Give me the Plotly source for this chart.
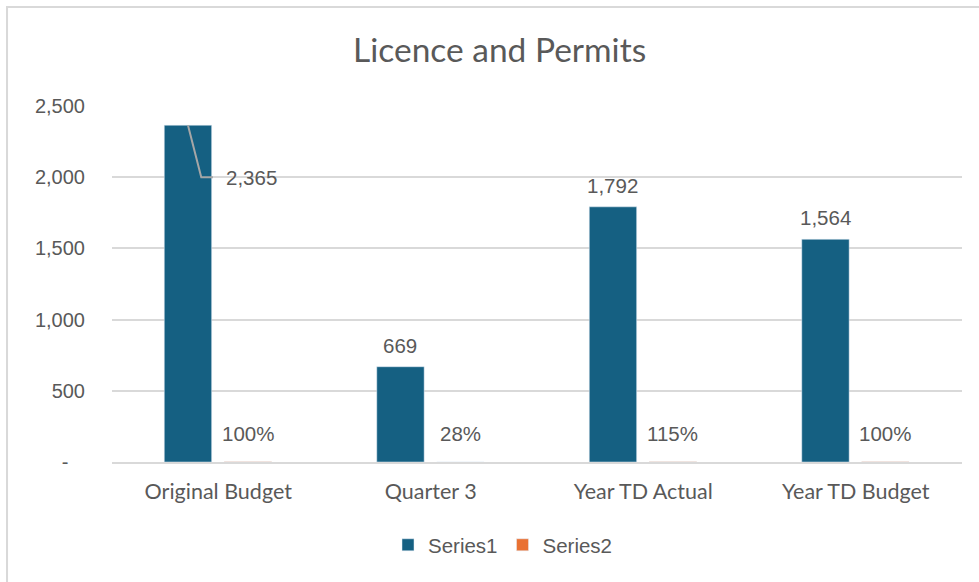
import plotly.graph_objects as go

# Licence and Permits: budget vs. actual, with percentage-of-budget series
categories = ["Original Budget", "Quarter 3", "Year TD Actual", "Year TD Budget"]
series1 = [2365, 669, 1792, 1564]
series2 = [1.00, 0.28, 1.15, 1.00]
series2_labels = ["100%", "28%", "115%", "100%"]
y_ticks = [0, 500, 1000, 1500, 2000, 2500]
y_ticktext = ["-\u00a0\u00a0\u00a0", "500", "1,000", "1,500", "2,000", "2,500"]

BLUE = "#156082"
ORANGE = "#E97132"
TEXT = "#595959"
GRID = "#D9D9D9"
NUM_FONT = "Liberation Sans"
CAT_FONT = "Lato"

BAR_W = 0.223
OFF1 = -0.254
OFF2 = 0.028

fig = go.Figure()
fig.add_trace(go.Bar(
    name="Series1", x=categories, y=series1, marker_color=BLUE,
    width=BAR_W, offset=OFF1,
))
fig.add_trace(go.Bar(
    name="Series2", x=categories, y=series2, marker_color=ORANGE,
    width=BAR_W, offset=OFF2,
))

# Data labels for Series1; the first one is pulled aside with a leader line
moved_label_y = 2000
c1 = OFF1 + BAR_W / 2
c2 = OFF2 + BAR_W / 2
for i, v in enumerate(series1):
    if i == 0:
        fig.add_annotation(x=i + OFF2, y=moved_label_y, xref="x", yref="y",
                           text=f"{v:,}", showarrow=False, xanchor="left",
                           yanchor="middle", font=dict(family=NUM_FONT, size=20.5, color=TEXT))
        fig.add_trace(go.Scatter(
            x=[i + c1, i - 0.08, i - 0.025], y=[v, moved_label_y, moved_label_y],
            mode="lines", line=dict(color="#A6A6A6", width=2),
            showlegend=False, hoverinfo="skip", xaxis="x2",
        ))
    else:
        fig.add_annotation(x=i + c1, y=v, xref="x", yref="y", text=f"{v:,}",
                           showarrow=False, yanchor="bottom", yshift=8,
                           font=dict(family=NUM_FONT, size=20.5, color=TEXT))

for i, (v, t) in enumerate(zip(series2, series2_labels)):
    fig.add_annotation(x=i + c2, y=v, xref="x", yref="y", text=t,
                       showarrow=False, yanchor="bottom", yshift=15,
                       font=dict(family=NUM_FONT, size=20.5, color=TEXT))

# Chart-area border
fig.add_shape(type="rect", xref="paper", yref="paper",
              x0=-0.1235, x1=1.2, y0=-0.6, y1=1.278,
              line=dict(color=GRID, width=2), fillcolor="rgba(0,0,0,0)", layer="below")

fig.update_layout(
    width=979, height=582,
    margin=dict(l=112, r=17, t=106, b=120),
    paper_bgcolor="white", plot_bgcolor="white",
    barmode="group",
    title=dict(text="Licence and Permits", x=0.456, xref="paper", xanchor="center",
               y=1 - 50 / 582, yanchor="middle",
               font=dict(family=CAT_FONT, size=33.5, color=TEXT)),
    xaxis=dict(type="category", categoryorder="array", categoryarray=categories,
               range=[-0.5, 3.5], showgrid=False, showline=True, linecolor=GRID,
               linewidth=2, ticks="", ticklabelstandoff=9,
               tickfont=dict(family=CAT_FONT, size=21.5, color=TEXT)),
    xaxis2=dict(overlaying="x", range=[-0.5, 3.5], visible=False),
    yaxis=dict(range=[0, 2500], tickvals=y_ticks, ticktext=y_ticktext,
               showgrid=True, gridcolor=GRID, gridwidth=2, zeroline=False,
               showline=False, ticks="", ticklabelstandoff=26,
               tickfont=dict(family=NUM_FONT, size=20, color=TEXT)),
    legend=dict(orientation="h", x=0.46, xanchor="center", y=-0.233, yanchor="middle",
                font=dict(family=NUM_FONT, size=20.5, color=TEXT), traceorder="normal"),
    showlegend=True,
)

fig.write_html("out.html")
